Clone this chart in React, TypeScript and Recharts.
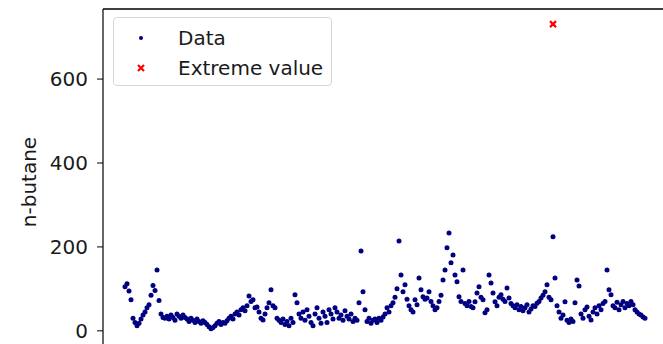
import { Legend, ReferenceLine, ScatterChart, Scatter, XAxis, YAxis } from "recharts";

// n-butane readings, one per sample
const butane = [
  105, 112, 95, 74, 30, 20, 12, 18, 28, 38,
  45, 55, 62, 85, 108, 96, 145, 72, 40, 32,
  30, 35, 28, 38, 32, 25, 40, 35, 30, 38,
  32, 28, 22, 30, 25, 20, 28, 22, 18, 24,
  20, 15, 10, 5, 8, 12, 18, 22, 15, 20,
  18, 24, 30, 35, 28, 40, 45, 38, 50, 55,
  48, 60, 83, 70, 74, 55, 57, 45, 30, 26,
  40, 55, 67, 98, 60, 55, 30, 25, 20, 28,
  15, 22, 12, 30, 20, 86, 67, 40, 30, 45,
  25, 50, 35, 20, 12, 40, 55, 30, 18, 45,
  35, 20, 50, 40, 28, 55, 45, 30, 38, 25,
  48, 35, 28, 40, 22, 30, 25, 67, 190, 93,
  50, 22, 30, 18, 25, 28, 20, 30, 25, 33,
  40, 55, 45, 60, 67, 80, 100, 214, 133, 93,
  110, 75, 60, 50, 45, 74, 62, 126, 98, 81,
  75, 78, 93, 70, 60, 50, 55, 70, 85, 121,
  145, 198, 233, 162, 181, 133, 117, 81, 70, 145,
  65, 60, 70, 58, 55, 69, 90, 105, 80, 74,
  43, 50, 133, 114, 90, 69, 60, 80, 86, 75,
  70, 102, 78, 65, 60, 55, 62, 50, 58, 48,
  55, 62, 45, 52, 60, 58, 66, 70, 78, 85,
  93, 110, 80, 74, 224, 126, 60, 45, 30, 38,
  69, 25, 20, 28, 22, 67, 121, 107, 40, 30,
  50, 57, 35, 26, 45, 55, 40, 60, 50, 65,
  70, 145, 98, 86, 60, 55, 68, 50, 62, 70,
  55, 65, 60, 70, 62, 50, 45, 40, 38, 33,
  30,
];

const extremeIndex = [214];
const extremeValue = [731];

const yTicks = [0, 200, 400, 600];
const yMax = 767;

const dataPoints = butane.map((v, i) => ({ idx: i, value: v }));
const extremePoints = extremeIndex.map((idx, i) => ({ idx, value: extremeValue[i] }));

const FONT = "'DejaVu Sans', sans-serif";
const TEXT = "#1a1a1a";

const Cross = ({ cx, cy }: any) => (
  <path
    d={`M${cx - 3},${cy - 3} L${cx + 3},${cy + 3} M${cx - 3},${cy + 3} L${cx + 3},${cy - 3}`}
    stroke="#ff0000"
    strokeWidth={2.2}
  />
);

const LegendBox = () => (
  <div
    style={{
      width: 219,
      height: 69,
      boxSizing: "border-box",
      border: "1px solid #d6d6d6",
      borderRadius: 4,
      background: "rgba(255,255,255,0.8)",
      paddingTop: 5,
      fontFamily: FONT,
      fontSize: 20,
      color: TEXT,
    }}
  >
    <div style={{ display: "flex", alignItems: "center", height: 30 }}>
      <svg width={10} height={10} style={{ marginLeft: 22, marginRight: 32 }}>
        <circle cx={5} cy={5} r={2} fill="#000080" />
      </svg>
      <span>Data</span>
    </div>
    <div style={{ display: "flex", alignItems: "center", height: 30 }}>
      <svg width={10} height={10} style={{ marginLeft: 22, marginRight: 32 }}>
        <path d="M2,2 L8,8 M2,8 L8,2" stroke="#ff0000" strokeWidth={2.2} />
      </svg>
      <span>Extreme value</span>
    </div>
  </div>
);

export default function App() {
  return (
    <div
      style={{
        position: "absolute",
        left: 0,
        top: 0,
        width: 663,
        height: 344,
        overflow: "hidden",
        background: "#fff",
      }}
    >
      <ScatterChart
        width={671}
        height={356}
        margin={{ top: 9, right: 0, bottom: 0, left: 0 }}
      >
        <XAxis
          dataKey="idx"
          type="number"
          domain={[-11, 273]}
          allowDataOverflow
          hide
        />
        <YAxis
          dataKey="value"
          type="number"
          domain={[-60, yMax]}
          allowDataOverflow
          ticks={yTicks}
          width={103}
          tickSize={6}
          tickMargin={9}
          axisLine={{ stroke: "#000", strokeWidth: 1.2 }}
          tickLine={{ stroke: "#000" }}
          tick={{ fill: TEXT, fontSize: 20, fontFamily: FONT }}
          label={{
            content: () => (
              <text
                x={29}
                y={182}
                transform="rotate(-90 29 182)"
                textAnchor="middle"
                dominantBaseline="central"
                fontFamily={FONT}
                fontSize={20}
                fill={TEXT}
              >
                n-butane
              </text>
            ),
          }}
        />
        <ReferenceLine y={yMax} stroke="#000" strokeWidth={1.5} />
        <Legend
          layout="vertical"
          align="center"
          verticalAlign="middle"
          wrapperStyle={{ top: 17, left: 113, width: "auto" }}
          content={() => <LegendBox />}
        />
        <Scatter
          name="Data"
          data={dataPoints}
          fill="#000080"
          shape={(p: any) => <circle cx={p.cx} cy={p.cy} r={2.5} fill="#000080" />}
          isAnimationActive={false}
        />
        <Scatter
          name="Extreme value"
          data={extremePoints}
          fill="#ff0000"
          shape={Cross}
          isAnimationActive={false}
        />
      </ScatterChart>
    </div>
  );
}
